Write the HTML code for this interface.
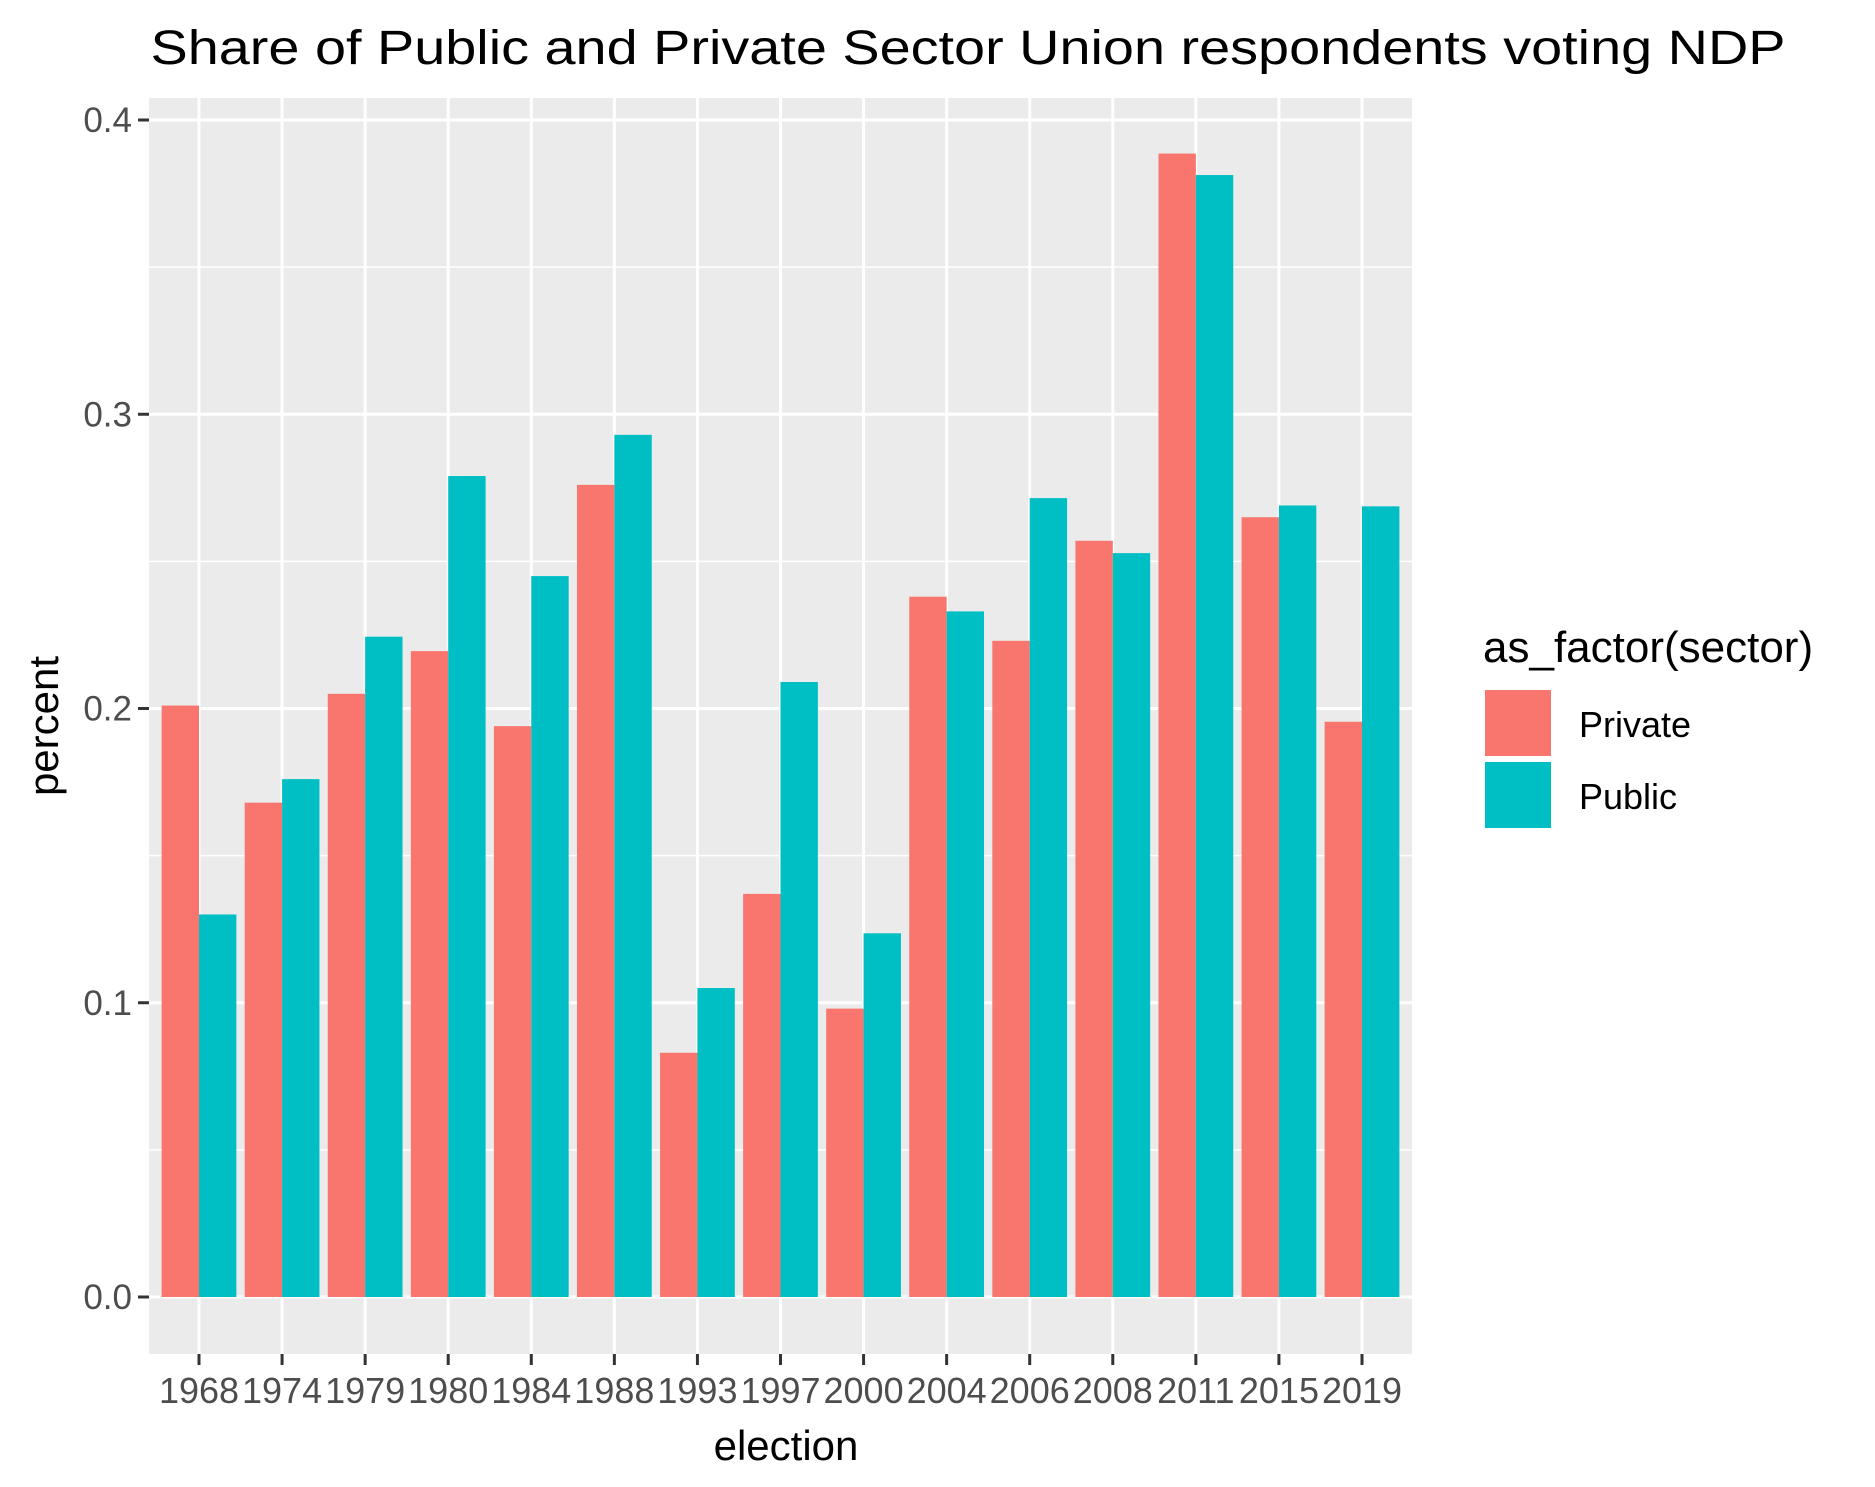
<!DOCTYPE html>
<html><head><meta charset="utf-8"><style>body{margin:0;background:#fff}svg{display:block}</style></head>
<body>
<svg id="chart" width="1875" height="1487" xmlns="http://www.w3.org/2000/svg" font-family="'Liberation Sans', sans-serif"></svg>
<script>
const categories=["1968","1974","1979","1980","1984","1988","1993","1997","2000","2004","2006","2008","2011","2015","2019"];
const privateVals=[0.201,0.168,0.205,0.2195,0.194,0.276,0.083,0.137,0.098,0.238,0.223,0.257,0.3886,0.265,0.1955];
const publicVals=[0.130,0.176,0.2244,0.279,0.245,0.293,0.105,0.209,0.1236,0.233,0.2715,0.2528,0.3813,0.269,0.2687];
const yTicks=[0,0.1,0.2,0.3,0.4];
const yTickLabels=["0.0","0.1","0.2","0.3","0.4"];
const NS="http://www.w3.org/2000/svg";
const svg=document.getElementById('chart');
const L=149,R=1412,T=98,B=1354;
const y=v=>1297-v*2942.5;
const step=(1362-199)/14;
const x=i=>199+i*step;
function mk(tag,attrs,parent){const e=document.createElementNS(NS,tag);for(const k in attrs)e.setAttribute(k,attrs[k]);(parent||svg).appendChild(e);return e;}
let e=mk('rect',{x:L,y:T,width:R-L,height:B-T,fill:'#ebebeb'});


for(let i=0;i<yTicks.length-1;i++){const v=(yTicks[i]+yTicks[i+1])/2;mk('line',{x1:L,x2:R,y1:y(v),y2:y(v),stroke:'#fff','stroke-width':1.5});}
yTicks.forEach((v,i)=>{
 mk('line',{x1:L,x2:R,y1:y(v),y2:y(v),stroke:'#fff','stroke-width':3});
 mk('line',{x1:138,x2:L,y1:y(v),y2:y(v),stroke:'#333','stroke-width':3});
 const t=mk('text',{x:132,y:y(v)+12,'text-anchor':'end','font-size':35,fill:'#4d4d4d'});t.textContent=yTickLabels[i];
 
 
});
categories.forEach((c,i)=>{
 mk('line',{x1:x(i),x2:x(i),y1:T,y2:B,stroke:'#fff','stroke-width':3});
});
const bw=step*0.45;
categories.forEach((c,i)=>{
 let r=mk('rect',{x:x(i)-bw,y:y(privateVals[i]),width:bw,height:y(0)-y(privateVals[i]),fill:'#f8766d'});
 
 
 r=mk('rect',{x:x(i),y:y(publicVals[i]),width:bw,height:y(0)-y(publicVals[i]),fill:'#00bfc4'});
 
 
 mk('line',{x1:x(i),x2:x(i),y1:B,y2:B+11,stroke:'#333','stroke-width':3});
 const t=mk('text',{x:x(i),y:1403,'text-anchor':'middle','font-size':36,fill:'#4d4d4d'});t.textContent=c;
 
 
});
let t=mk('text',{x:968,y:64,'text-anchor':'middle','font-size':48,fill:'#000',textLength:1635,lengthAdjust:'spacingAndGlyphs'});t.textContent='Share of Public and Private Sector Union respondents voting NDP';


t=mk('text',{x:786,y:1460,'text-anchor':'middle','font-size':42,fill:'#000'});t.textContent='election';


t=mk('text',{x:0,y:0,'text-anchor':'middle','font-size':42,fill:'#000',transform:'translate(58,726) rotate(-90)'});t.textContent='percent';


t=mk('text',{x:1483,y:662,'font-size':44,fill:'#000'});t.textContent='as_factor(sector)';


[["Private","#f8766d",690,737],["Public","#00bfc4",762,809]].forEach(([n,c,yy,by])=>{
 const g=mk('g',{});
 
 
 mk('rect',{x:1485,y:yy,width:66,height:66,fill:c},g);
 const tt=mk('text',{x:1579,y:by,'font-size':36,fill:'#000'},g);tt.textContent=n;
});
</script>
</body></html>
